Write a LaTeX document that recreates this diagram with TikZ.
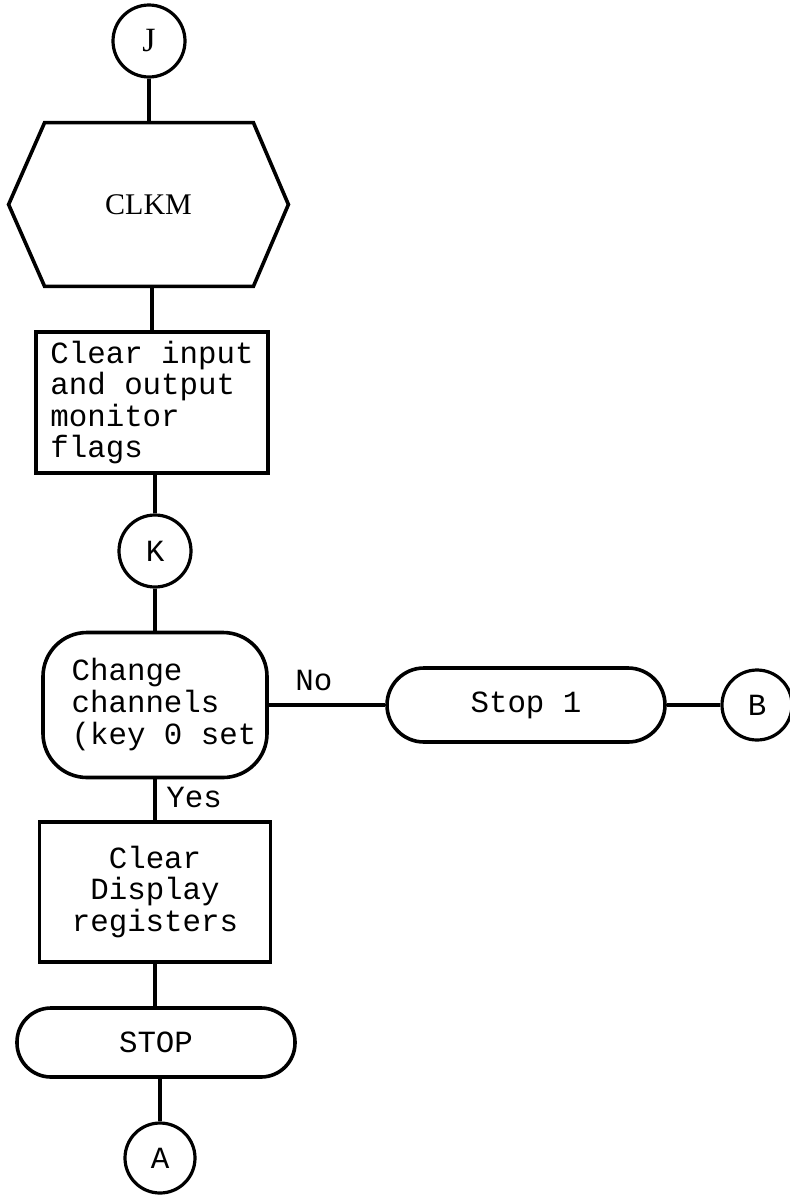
\documentclass[tikz,border=0pt]{standalone}
\usepackage{fontspec}
\setmainfont{Liberation Serif}
\setmonofont{Liberation Mono}
\usetikzlibrary{calc}

\begin{document}
\begin{tikzpicture}[x=0.5pt, y=-0.5pt,
  every node/.style={font=\ttfamily\fontsize{15.4}{15.8}\selectfont},
  flow/.style={line width=1.8pt},
  conn/.style={draw, circle, line width=1.6pt, minimum size=36pt, inner sep=0pt},
  proc/.style={draw, line width=1.8pt, inner sep=0pt},
  term/.style={draw, line width=1.8pt, inner sep=0pt},
  serifbig/.style={font=\rmfamily\fontsize{17}{17}\selectfont},
]
\useasboundingbox (0,0) rectangle (790,1195);

% entry connector and the CLKM preparation block
\node[conn, serifbig] (J) at (149,41) {J};
\node[inner sep=0pt, minimum width=139.5pt, minimum height=81.5pt,
      font=\rmfamily\fontsize{15}{15}\selectfont] (clkm) at (148.5,204.5) {CLKM};
\draw[flow, line join=miter]
  (clkm.west) -- ($(clkm.north west)+(36,0)$) -- ($(clkm.north east)+(-35,0)$)
  -- (clkm.east) -- ($(clkm.south east)+(-35,0)$) -- ($(clkm.south west)+(36,0)$) -- cycle;

% clearing the monitor flags
\node[proc, minimum width=116pt, minimum height=70.5pt, align=left] (flags) at (152,402.5)
  {Clear input\\and output\\monitor\\flags};
\node[conn] (K) at (155,551) {K};

% decision on channel change
\node[proc, rounded corners=22pt, minimum width=112pt, minimum height=72.5pt, align=left,
      font=\ttfamily\fontsize{15.4}{16}\selectfont] (dec) at (155,705)
  {\hspace*{9pt}Change\\\hspace*{9pt}channels\\\hspace*{9pt}(key 0 set};

% "No" branch
\node[term, rounded corners=18.5pt, minimum width=139pt, minimum height=37pt] (stop1) at (526,705) {Stop 1};
\node[conn, minimum size=35pt] (B) at (757,705) {B};

% "Yes" branch
\node[proc, minimum width=115.5pt, minimum height=70pt, align=center] (disp) at (155,892)
  {Clear\\Display\\registers};
\node[term, rounded corners=17pt, minimum width=139pt, minimum height=34.5pt] (stop) at (156,1042.5) {STOP};
\node[conn, minimum size=35pt] (A) at (160,1158) {A};

% branch labels
\node[anchor=base west, inner sep=0pt] (no) at (295,690) {No};
\node[anchor=base west, inner sep=0pt] (yes) at (166,807) {Yes};

% connectors
\draw[flow] (J) -- (J |- clkm.north);
\draw[flow] (flags.north) -- (flags.north |- clkm.south);
\draw[flow] (K) -- (K |- flags.south);
\draw[flow] (K) -- (K |- dec.north);
\draw[flow] (dec.east) -- (stop1.west);
\draw[flow] (stop1.east) -- (B);
\draw[flow] (dec.south) -- (dec.south |- disp.north);
\draw[flow] (disp.south) -- (disp.south |- stop.north);
\draw[flow] (A) -- (A |- stop.south);
\end{tikzpicture}
\end{document}
